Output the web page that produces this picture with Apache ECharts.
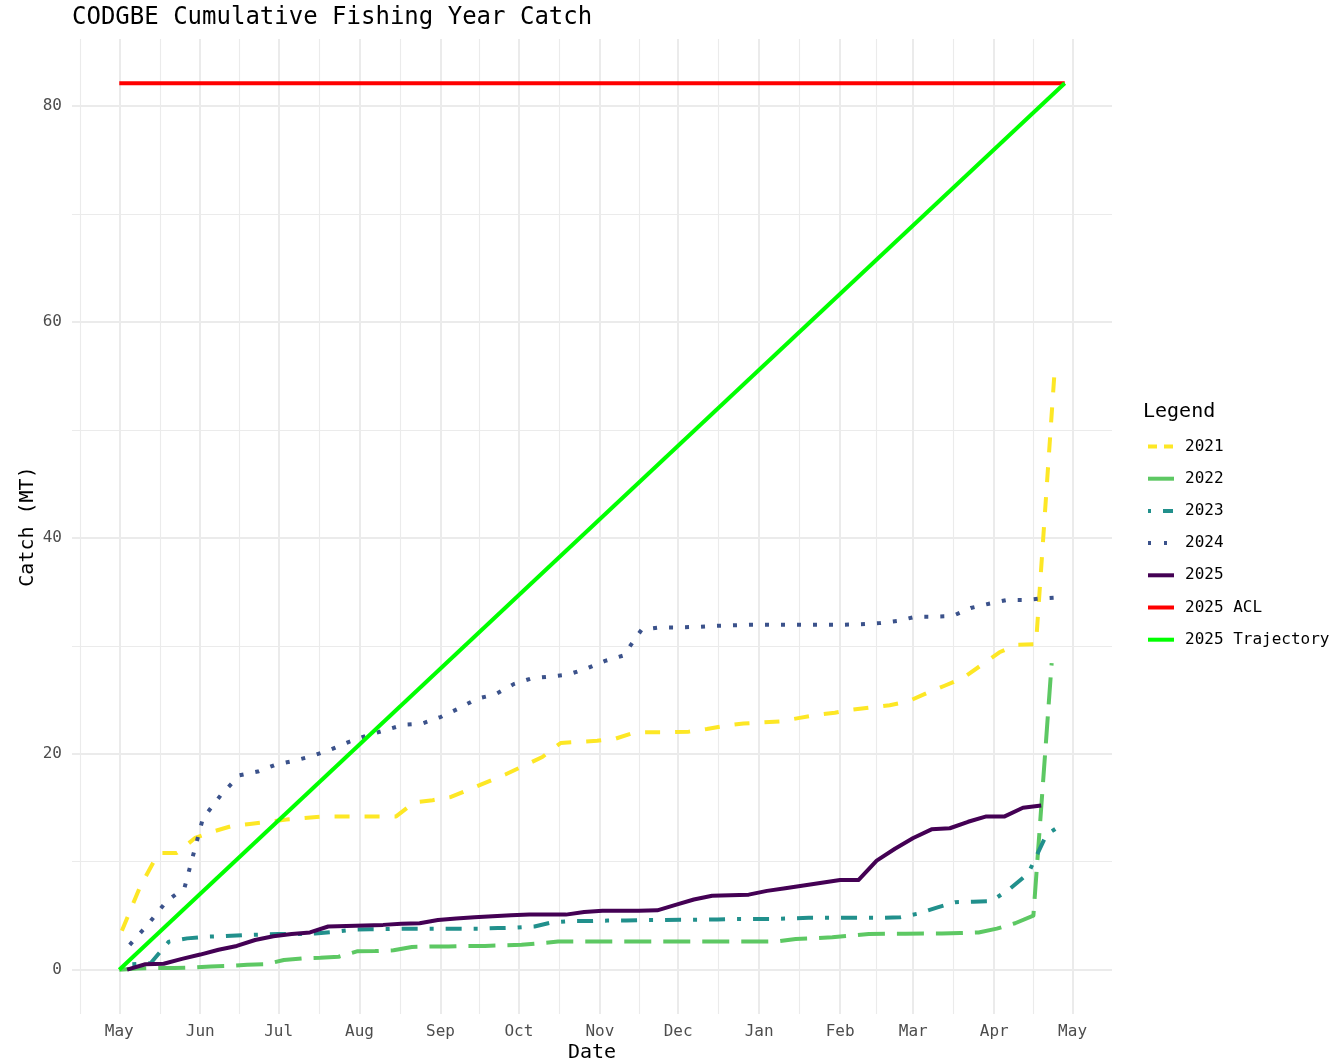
<!DOCTYPE html>
<html>
<head>
<meta charset="utf-8">
<script src="https://cdn.jsdelivr.net/npm/echarts@6/dist/echarts.min.js"></script>
<style>html,body{margin:0;padding:0;background:#fff}#c{width:1335px;height:1060px}</style>
</head>
<body>
<div id="c"></div>
<script>
// ---------- data ----------
const fyStartDate = '2025-05-01';
const fyEndDate = '2026-04-28';
const acl2025 = 82.1;

const yearNames = ['2021', '2022', '2023', '2024', '2025'];
// first weekly report date of each year, mapped onto the fishing-year calendar
const firstWeek = ['2025-05-02', '2025-05-01', '2025-05-06', '2025-05-05', '2025-05-04'];

const catch2021 = [3.6, 7.7, 10.8, 10.8, 12.2, 12.8, 13.3, 13.5, 13.7, 13.9, 14.05, 14.2, 14.2, 14.2, 14.2, 14.2,
  15.5, 15.7, 16.0, 16.7, 17.4, 18.1, 18.9, 19.7, 21.0, 21.1, 21.2, 21.4, 21.95, 22.0, 22.0, 22.05, 22.3, 22.6,
  22.8, 22.9, 23.0, 23.3, 23.6, 23.8, 24.1, 24.3, 24.5, 24.85, 25.6, 26.3, 27.0, 28.2, 29.4, 30.1, 30.15, 55.0];
const catch2022 = [0, 0.1, 0.15, 0.15, 0.2, 0.3, 0.35, 0.45, 0.5, 0.9, 1.05, 1.1, 1.2, 1.7, 1.72, 1.8, 2.1, 2.15,
  2.15, 2.2, 2.2, 2.25, 2.3, 2.45, 2.6, 2.6, 2.6, 2.6, 2.6, 2.6, 2.6, 2.6, 2.6, 2.6, 2.6, 2.6, 2.62, 2.85, 2.9,
  3.0, 3.15, 3.3, 3.33, 3.33, 3.35, 3.35, 3.4, 3.45, 3.8, 4.3, 5.0, 28.4];
const catch2023 = [0.5, 0.6, 2.6, 2.9, 3.05, 3.1, 3.2, 3.25, 3.3, 3.3, 3.35, 3.5, 3.7, 3.75, 3.76, 3.8, 3.8, 3.8,
  3.8, 3.8, 3.85, 3.9, 4.0, 4.4, 4.5, 4.5, 4.55, 4.56, 4.6, 4.6, 4.63, 4.63, 4.65, 4.7, 4.7, 4.7, 4.75, 4.8, 4.8,
  4.8, 4.8, 4.8, 4.85, 5.2, 5.75, 6.25, 6.3, 6.35, 7.5, 8.9, 12.5, 13.6];
const catch2024 = [2.3, 4.2, 6.3, 7.6, 14.0, 16.2, 18.0, 18.35, 19.0, 19.35, 19.8, 20.4, 21.1, 21.7, 22.2, 22.7,
  22.8, 23.4, 24.2, 25.1, 25.5, 26.45, 27.0, 27.15, 27.35, 27.9, 28.6, 29.1, 31.5, 31.7, 31.7, 31.75, 31.85, 31.9,
  31.95, 31.95, 31.95, 31.95, 31.95, 31.95, 32.0, 32.1, 32.3, 32.7, 32.7, 32.75, 33.5, 33.9, 34.25, 34.25, 34.4, 34.5];
const catch2025 = [0, 0.5, 0.55, 1.0, 1.4, 1.85, 2.2, 2.75, 3.1, 3.3, 3.45, 4.0, 4.05, 4.1, 4.15, 4.25, 4.3, 4.6,
  4.75, 4.85, 4.95, 5.05, 5.1, 5.1, 5.1, 5.35, 5.45, 5.45, 5.45, 5.5, 6.0, 6.5, 6.85, 6.9, 6.95, 7.3, 7.55, 7.8,
  8.05, 8.3, 8.3, 10.1, 11.2, 12.2, 13.0, 13.1, 13.7, 14.2, 14.2, 15.0, 15.2];
const catchByYear = [catch2021, catch2022, catch2023, catch2024, catch2025];

const aclName = '2025 ACL';
const trajName = '2025 Trajectory';

const monthStarts = ['2025-05-01', '2025-06-01', '2025-07-01', '2025-08-01', '2025-09-01', '2025-10-01',
  '2025-11-01', '2025-12-01', '2026-01-01', '2026-02-01', '2026-03-01', '2026-04-01', '2026-05-01'];
const monthLabels = ['May', 'Jun', 'Jul', 'Aug', 'Sep', 'Oct', 'Nov', 'Dec', 'Jan', 'Feb', 'Mar', 'Apr', 'May'];
const prevMonthStart = '2025-04-01';
const yTicks = [0, 20, 40, 60, 80];

// ---------- helpers / styles ----------
const DAY = 86400000;
const ts = s => Date.parse(s + 'T00:00:00Z');
const FONT = 'DejaVu Sans Mono';
const LW = 4;
const yearColors = ['#FDE725', '#5DC863', '#21908C', '#3B528B', '#440154'];
const yearDash = [[15, 15], [27, 12], [4, 12, 16, 12], [4, 12], 'solid'];
const legendDash = [[9, 7], 'solid', [3, 12, 10, 12], [3, 13], 'solid'];

const t0 = ts(fyStartDate), t1 = ts(fyEndDate);
const span = t1 - t0;
const xMin = t0 - 0.05 * span, xMax = t1 + 0.05 * span;
const yLo = 0, yHi = acl2025;
const yMin = yLo - 0.05 * (yHi - yLo), yMax = yHi + 0.05 * (yHi - yLo);

const gridColor = '#ebebeb';
const tickText = { show: true, color: '#4d4d4d', fontFamily: FONT, fontSize: 16 };

const markData = [];
monthStarts.forEach((d, i) => {
  markData.push({ xAxis: ts(d), lineStyle: { color: gridColor, width: 2, type: 'solid' },
    label: Object.assign({ position: 'start', distance: 10, formatter: monthLabels[i] }, tickText) });
});
const allStarts = [prevMonthStart].concat(monthStarts).map(ts);
for (let i = 0; i < allStarts.length - 1; i++) {
  const m = (allStarts[i] + allStarts[i + 1]) / 2;
  if (m > xMin && m < xMax) markData.push({ xAxis: m, lineStyle: { color: gridColor, width: 1.1, type: 'solid' }, label: { show: false } });
}
yTicks.forEach(v => {
  markData.push({ yAxis: v, lineStyle: { color: gridColor, width: 2, type: 'solid' },
    label: Object.assign({ position: 'start', distance: 10, formatter: String(v) }, tickText) });
});
for (let i = 0; i < yTicks.length - 1; i++) {
  const m = (yTicks[i] + yTicks[i + 1]) / 2;
  markData.push({ yAxis: m, lineStyle: { color: gridColor, width: 1.1, type: 'solid' }, label: { show: false } });
}

const series = [{
  name: '_grid', type: 'line', data: [[t0, 0]], symbol: 'none', lineStyle: { width: 0, opacity: 0 },
  silent: true, z: 1, animation: false,
  markLine: { silent: true, symbol: ['none', 'none'], animation: false, data: markData, z: 1,
    emphasis: { disabled: true } }
}];

yearNames.forEach((name, k) => {
  const start = ts(firstWeek[k]);
  series.push({
    name, type: 'line', symbol: 'none', z: 3 + k, animation: false,
    data: catchByYear[k].map((v, i) => [start + i * 7 * DAY, v]),
    lineStyle: { color: yearColors[k], width: LW, type: yearDash[k], cap: 'butt', join: 'round' },
    itemStyle: { color: yearColors[k] }
  });
});
series.push({
  name: aclName, type: 'line', symbol: 'none', z: 9, animation: false,
  data: [[t0, acl2025], [t1, acl2025]],
  lineStyle: { color: '#FF0000', width: LW, type: 'solid' }, itemStyle: { color: '#FF0000' }
});
series.push({
  name: trajName, type: 'line', symbol: 'none', z: 10, animation: false,
  data: [[t0, 0], [t1, acl2025]],
  lineStyle: { color: '#00FF00', width: LW, type: 'solid' }, itemStyle: { color: '#00FF00' }
});

const legendData = yearNames.map((n, k) => ({ name: n, lineStyle: { type: legendDash[k], width: LW } }))
  .concat([{ name: aclName, lineStyle: { width: LW } }, { name: trajName, lineStyle: { width: LW } }]);

const option = {
  backgroundColor: '#fff',
  animation: false,
  title: [
    { text: 'CODGBE Cumulative Fishing Year Catch', left: 72, top: 6, padding: 0,
      textStyle: { fontFamily: FONT, fontSize: 24, fontWeight: 'normal', color: '#000' } },
    { text: 'Legend', left: 1143, top: 402, padding: 0,
      textStyle: { fontFamily: FONT, fontSize: 20, fontWeight: 'normal', color: '#000' } }
  ],
  legend: {
    orient: 'vertical', left: 1146, top: 438.5, padding: 0,
    itemWidth: 26, itemHeight: 16, itemGap: 16.2,
    selectedMode: false,
    itemStyle: { opacity: 0, color: 'rgba(0,0,0,0)', borderWidth: 0 },
    textStyle: { fontFamily: FONT, fontSize: 16, color: '#000', padding: [0, 0, 0, 6], lineHeight: 16 },
    data: legendData
  },
  grid: { left: 72, right: 223, top: 39, bottom: 46, containLabel: false, outerBoundsMode: 'none' },
  xAxis: {
    type: 'time', min: xMin, max: xMax,
    name: 'Date', nameLocation: 'middle', nameGap: 29,
    nameTextStyle: { fontFamily: FONT, fontSize: 20, color: '#000' },
    axisLine: { show: false }, axisTick: { show: false }, axisLabel: { show: false }, splitLine: { show: false }
  },
  yAxis: {
    type: 'value', min: yMin, max: yMax,
    name: 'Catch (MT)', nameLocation: 'middle', nameGap: 34, nameRotate: 90,
    nameTextStyle: { fontFamily: FONT, fontSize: 20, color: '#000' },
    axisLine: { show: false }, axisTick: { show: false }, axisLabel: { show: false }, splitLine: { show: false }
  },
  series
};

const chart = echarts.init(document.getElementById('c'), null, { renderer: 'canvas' });
chart.setOption(option);
</script>
</body>
</html>
